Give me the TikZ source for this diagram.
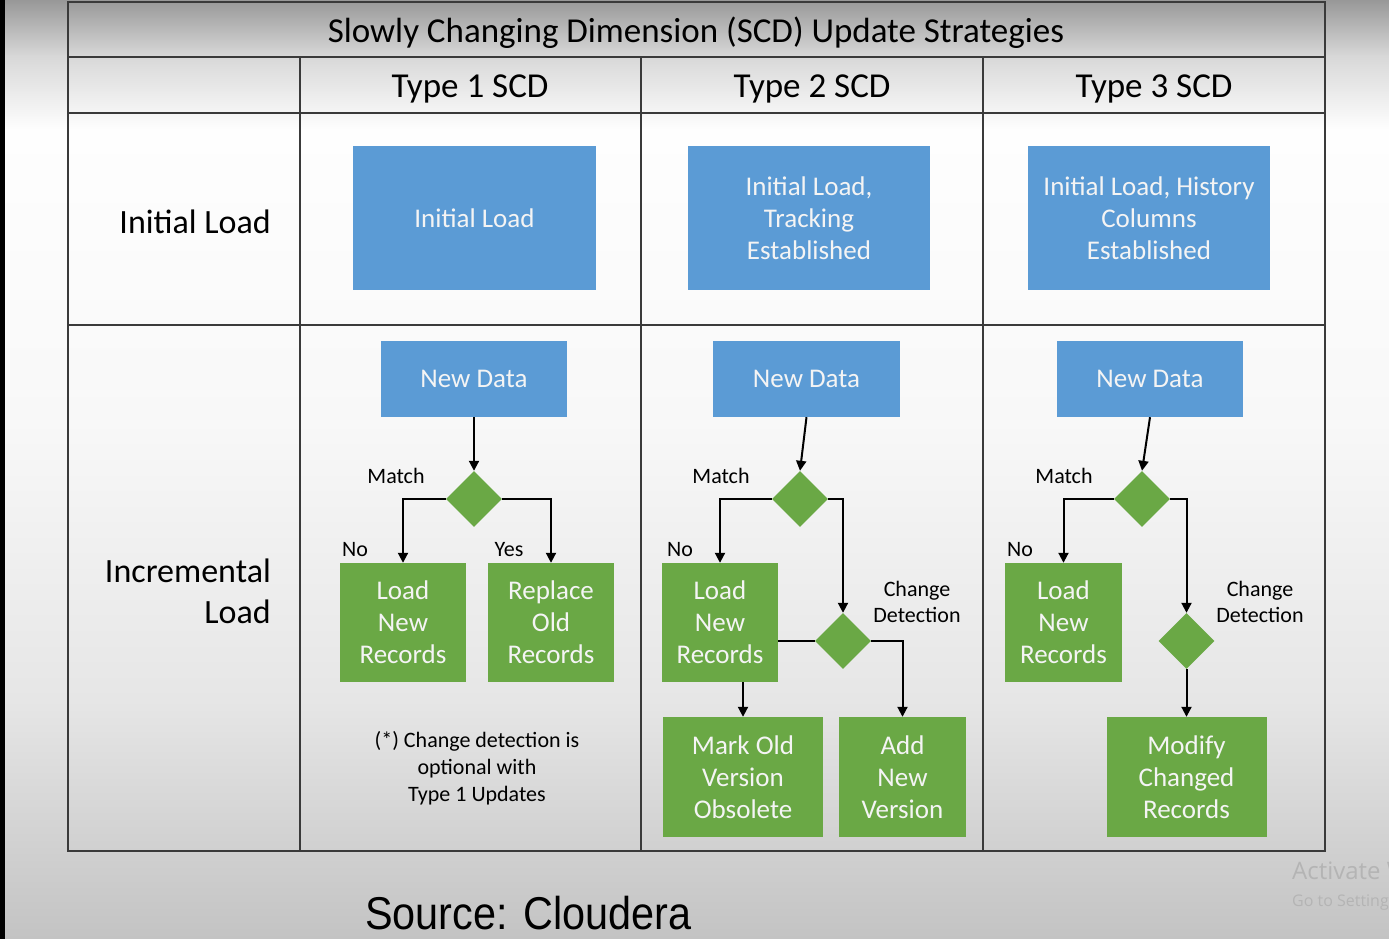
\documentclass[tikz,border=0pt]{standalone}
\usepackage{fontspec}
\setmainfont{Carlito}
\newfontfamily\srcfont[FakeStretch=0.9]{Liberation Sans}
\newfontfamily\winfont{Open Sans}
\usetikzlibrary{shapes.geometric,arrows.meta}
\definecolor{scdblue}{HTML}{5B9BD5}
\definecolor{scdgreen}{HTML}{6AA845}
\definecolor{gridline}{HTML}{3A3A3A}
\definecolor{boxtext}{HTML}{F4F4F4}
\definecolor{wmark}{HTML}{B4B4B4}
\definecolor{g0}{HTML}{989898}
\definecolor{g1}{HTML}{D8D8D8}
\definecolor{g2}{HTML}{FEFEFE}
\definecolor{g3}{HTML}{F8F8F8}
\definecolor{g4}{HTML}{E6E6E6}
\definecolor{g5}{HTML}{C3C3C3}
\pgfdeclareverticalshading{bgshade}{100bp}{color(0bp)=(g5); color(25bp)=(g5); color(37.7bp)=(g4); color(52.6bp)=(g3); color(68.1bp)=(g2); color(72bp)=(g1); color(75bp)=(g0); color(100bp)=(g0)}
\begin{document}
\begin{tikzpicture}[x=1pt,y=-1pt,
  gridl/.style={draw=gridline,line width=2.5pt},
  bluebox/.style={rectangle,fill=scdblue,text=boxtext,inner sep=0pt,align=center,font=\fontsize{27}{32}\selectfont},
  greenbox/.style={rectangle,fill=scdgreen,text=boxtext,inner sep=0pt,align=center,font=\fontsize{27}{32}\selectfont},
  decision/.style={diamond,fill=scdgreen,inner sep=0pt,minimum width=56pt,minimum height=56pt},
  arr/.style={draw=black,line width=2pt,-{Triangle[length=10pt,width=10pt]}},
  conn/.style={draw=black,line width=2pt},
  lbl/.style={inner sep=0pt,align=center,font=\fontsize{22}{26}\selectfont},
  head/.style={inner sep=0pt,font=\fontsize{35}{40}\selectfont},
  rowlbl/.style={inner sep=0pt,align=right,anchor=east,font=\fontsize{34}{41}\selectfont}]
\useasboundingbox (0,0) rectangle (1389,939);
\shade[shading=bgshade] (0,0) rectangle (1389,939);
\fill[black] (0,0) rectangle (5,939);

% table grid
\draw[gridl] (68,2) rectangle (1325,851);
\draw[gridl] (68,57) -- (1325,57);
\draw[gridl] (68,113) -- (1325,113);
\draw[gridl] (68,325) -- (1325,325);
\draw[gridl] (300,57) -- (300,851);
\draw[gridl] (641,57) -- (641,851);
\draw[gridl] (983,57) -- (983,851);

% headings
\node[inner sep=0pt,font=\fontsize{35}{40}\selectfont] (title) at (696,33) {Slowly Changing Dimension (SCD) Update Strategies};
\node[head] (h1) at (470,89) {Type 1 SCD};
\node[head] (h2) at (812,89) {Type 2 SCD};
\node[head] (h3) at (1154,89) {Type 3 SCD};
\node[rowlbl] (r1) at (271,222) {Initial Load};
\node[rowlbl] (r2) at (271,591) {Incremental\\Load};

% initial load boxes
\node[bluebox,minimum width=243pt,minimum height=144pt] (il1) at (474.5,218) {Initial Load};
\node[bluebox,minimum width=242pt,minimum height=144pt] (il2) at (809,218) {Initial Load,\\Tracking\\Established};
\node[bluebox,minimum width=242pt,minimum height=144pt] (il3) at (1149,218) {Initial Load, History\\Columns\\Established};

% new data boxes
\node[bluebox,minimum width=186pt,minimum height=76pt] (nd1) at (474,379) {New Data};
\node[bluebox,minimum width=187pt,minimum height=76pt] (nd2) at (806.5,379) {New Data};
\node[bluebox,minimum width=186pt,minimum height=76pt] (nd3) at (1150,379) {New Data};

% decisions
\node[decision] (d1) at (474,499) {};
\node[decision] (d2) at (800,499) {};
\node[decision] (d2b) at (843,641) {};
\node[decision] (d3) at (1142,499) {};
\node[decision] (d3b) at (1186.5,641) {};

% green boxes
\node[greenbox,minimum width=126pt,minimum height=119pt] (lnr1) at (403,622.5) {Load\\New\\Records};
\node[greenbox,minimum width=126pt,minimum height=119pt] (ror1) at (551,622.5) {Replace\\Old\\Records};
\node[greenbox,minimum width=116pt,minimum height=119pt] (lnr2) at (720,622.5) {Load\\New\\Records};
\node[greenbox,minimum width=160pt,minimum height=120pt] (mov) at (743,777) {Mark Old\\Version\\Obsolete};
\node[greenbox,minimum width=127pt,minimum height=120pt] (anv) at (902.5,777) {Add\\New\\Version};
\node[greenbox,minimum width=117pt,minimum height=119pt] (lnr3) at (1063.5,622.5) {Load\\New\\Records};
\node[greenbox,minimum width=160pt,minimum height=120pt] (mcr) at (1186.5,777) {Modify\\Changed\\Records};

% connectors type 1
\draw[arr] (nd1.south) -- (d1.north);
\draw[arr] (d1.west) -| (lnr1.north);
\draw[arr] (d1.east) -| (ror1.north);
% type 2
\draw[arr] (nd2.south) -- (d2.north);
\draw[arr] (d2.west) -| (lnr2.north);
\draw[arr] (d2.east) -| (d2b.north);
\draw[conn] (lnr2.east |- d2b.west) -- (d2b.west);
\draw[arr] (d2b.east) -| (anv.north);
\draw[arr] (lnr2.south -| mov.north) -- (mov.north);
% type 3
\draw[arr] (nd3.south) -- (d3.north);
\draw[arr] (d3.west) -| (lnr3.north);
\draw[arr] (d3.east) -| (d3b.north);
\draw[arr] (d3b.south) -- (mcr.north);

% labels
\node[lbl] (m1) at (396,476) {Match};
\node[lbl] (m2) at (721,476) {Match};
\node[lbl] (m3) at (1064,476) {Match};
\node[lbl] (no1) at (355,550) {No};
\node[lbl] (yes1) at (509,550) {Yes};
\node[lbl] (no2) at (680,550) {No};
\node[lbl] (no3) at (1020,550) {No};
\node[lbl] (cd2) at (917,602) {Change\\Detection};
\node[lbl] (cd3) at (1260,602) {Change\\Detection};
\node[lbl,font=\fontsize{22}{27}\selectfont] (note) at (477,768) {(*) Change detection is\\optional with\\Type 1 Updates};

% source
\node[inner sep=0pt,anchor=base west,font=\srcfont\fontsize{46}{50}\selectfont] (src) at (365,929) {Source: Cloudera};

% watermark
\begin{scope}
\clip (0,0) rectangle (1389,939);
\node[inner sep=0pt,anchor=base west,text=wmark,font=\winfont\fontsize{24}{28}\selectfont] (wm1) at (1292,879) {Activate Windows};
\node[inner sep=0pt,anchor=base west,text=wmark,font=\winfont\fontsize{16}{20}\selectfont] (wm2) at (1292,906) {Go to Settings to activate Windows.};
\end{scope}
\end{tikzpicture}
\end{document}
